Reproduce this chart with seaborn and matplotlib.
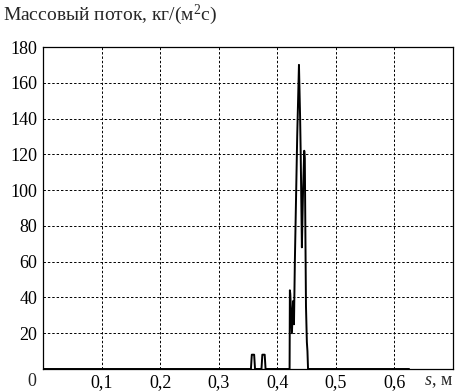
import matplotlib
matplotlib.use("Agg")
import matplotlib.pyplot as plt
import pandas as pd
import seaborn as sns

# distance s, m  and  mass flux, kg/(m^2 s)
s_pos = [0.0, 0.355, 0.3565, 0.3605, 0.362, 0.373, 0.3745, 0.3785, 0.380,
         0.4210, 0.4215, 0.4222, 0.4250, 0.4270, 0.4285, 0.4300, 0.4340,
         0.4370, 0.4380, 0.4390, 0.4400, 0.4420, 0.4440, 0.4460, 0.4470,
         0.4480, 0.4490, 0.4505, 0.4515, 0.4525, 0.625]
flux = [0, 0, 8, 8, 0, 0, 8, 8, 0,
        0, 44, 42, 20, 38, 25, 60, 130,
        170, 155, 140, 120, 68, 100, 122, 118,
        75, 35, 15, 10, 0, 0]

x_ticks = [0.1, 0.2, 0.3, 0.4, 0.5, 0.6]
x_labels = ["0,1", "0,2", "0,3", "0,4", "0,5", "0,6"]
y_ticks = [20, 40, 60, 80, 100, 120, 140, 160, 180]

sns.set_theme(style="white")
plt.rcParams["font.family"] = ["Liberation Serif", "DejaVu Serif"]
plt.rcParams["mathtext.fontset"] = "custom"
plt.rcParams["mathtext.rm"] = "Liberation Serif"
plt.rcParams["mathtext.it"] = "Liberation Serif:italic"

df = pd.DataFrame({"s": s_pos, "flux": flux})

fig = plt.figure(figsize=(4.58, 3.92), dpi=100)
ax = fig.add_axes([43 / 458, 1 - 369 / 392, 410 / 458, 322 / 392])
sns.lineplot(data=df, x="s", y="flux", ax=ax, color="black", linewidth=1.4,
             estimator=None, sort=False)

ax.set_xlim(0, 0.7)
ax.set_ylim(0, 180)
ax.set_xticks(x_ticks)
ax.set_xticklabels(x_labels)
ax.set_yticks(y_ticks)
ax.tick_params(length=0, labelsize=13, colors="black", pad=4)
ax.tick_params(axis="y", pad=4)
ax.grid(True, color="black", linestyle=(0, (2.5, 2)), linewidth=0.7)
for sp in ax.spines.values():
    sp.set_color("black")
    sp.set_linewidth(0.9)
ax.set_xlabel("")
ax.set_ylabel("")

fig.text(32 / 458, 1 - 382 / 392, "0", ha="center", va="center", fontsize=13)
fig.text(424 / 458, 1 - 382 / 392, "$s$, м", ha="left", va="center", fontsize=13)
fig.text(3 / 458, 1 - 15 / 392, "Массовый поток, кг/(м$^2$с)", ha="left",
         va="center", fontsize=14)

fig.savefig("out.png", dpi=100)
